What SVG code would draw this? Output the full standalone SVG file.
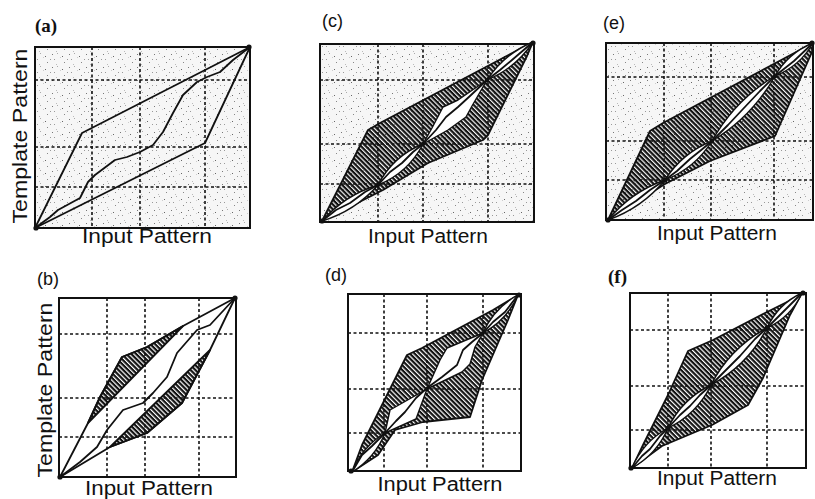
<svg xmlns="http://www.w3.org/2000/svg" width="815" height="499" viewBox="0 0 815 499">
<defs>
  <pattern id="hatch" patternUnits="userSpaceOnUse" width="3.4" height="3.4" patternTransform="rotate(45)">
    <rect x="0" y="0" width="3.4" height="2.2" fill="#111"/>
  </pattern>
  <pattern id="speck" patternUnits="userSpaceOnUse" width="17" height="13">
    <rect width="17" height="13" fill="#f6f6f6"/>
    <rect x="1" y="2" width="1" height="1" fill="#777"/>
    <rect x="6" y="1" width="1" height="1" fill="#aaa"/>
    <rect x="11" y="4" width="1" height="1" fill="#666"/>
    <rect x="3" y="7" width="1" height="1" fill="#999"/>
    <rect x="13" y="10" width="1" height="1" fill="#888"/>
    <rect x="9" y="5" width="1" height="1" fill="#ccc"/>
    <rect x="16" y="7" width="1" height="1" fill="#999"/>
    <rect x="5" y="12" width="1" height="1" fill="#bbb"/>
  </pattern>
</defs>
<style>
  .box{fill:none;stroke:#111;stroke-width:2}
  .grid{fill:none;stroke:#111;stroke-width:1.6;stroke-dasharray:3 2.5}
  .ln{fill:none;stroke:#111;stroke-width:1.8;stroke-linejoin:round}
  .hatch{fill:url(#hatch);stroke:#111;stroke-width:1.8;stroke-linejoin:round}
  .lens{fill:#fff;stroke:#111;stroke-width:1.4;stroke-linejoin:round}
  .dot{fill:#111}
  .ax{font-family:"Liberation Sans",Arial,sans-serif;font-size:19.5px;fill:#111}
  .tag{font-family:"Liberation Sans",Arial,sans-serif;font-size:18px;fill:#111}
  .tags{font-family:"Liberation Serif","Times New Roman",serif;font-size:19px;font-weight:bold;fill:#111}
</style>
<rect width="815" height="499" fill="#fff"/>

<!-- Panel (a) -->
<g id="panel-a">
  <text class="tags" x="35" y="32">(a)</text>
  <rect x="35" y="47" width="215" height="181" fill="url(#speck)"/>
  <path class="grid" d="M92,47V228M140,47V228M205,47V228M35,80H250M35,147H250M35,187H250"/>
  <rect class="box" x="35" y="47" width="215" height="181"/>
  <polyline class="ln" points="35,228 82,133 250,47"/>
  <polyline class="ln" points="35,228 205,143 250,47"/>
  <polyline class="ln" points="35,228 50,217 58,210 80,198 88,182 95,175 115,160 127,157 140,152 153,145 163,132 173,113 183,95 197,82 207,77 220,72 233,60 250,47"/>
  <circle class="dot" cx="36" cy="228" r="2.6"/>
  <circle class="dot" cx="249" cy="47" r="2.6"/>
  <text class="ax" x="147" y="243" text-anchor="middle" textLength="130" lengthAdjust="spacingAndGlyphs">Input Pattern</text>
  <text class="ax" transform="translate(27,136) rotate(-90)" text-anchor="middle" textLength="175" lengthAdjust="spacingAndGlyphs">Template Pattern</text>
</g>

<!-- Panel (b) -->
<g id="panel-b">
  <text class="tag" x="37" y="285">(b)</text>
  <path class="grid" d="M107,298V477M145,298V477M199,298V477M59,334H236M59,398H236M59,437H236"/>
  <rect class="box" x="59" y="298" width="177" height="179"/>
  <polygon class="hatch" points="88,423 100,397 122,357 147,347 183,326"/>
  <polygon class="hatch" points="110,447 147,433 182,403 210,350"/>
  <polyline class="ln" points="60,477 88,423 100,397 122,357 147,347 183,326 235,298"/>
  <polyline class="ln" points="60,477 110,447 147,433 182,403 210,350 235,298"/>
  <polyline class="ln" points="60,477 80,462 97,447 107,430 123,410 143,403 153,393 167,377 177,353 197,330 210,325 235,298"/>
  <circle class="dot" cx="60" cy="477" r="2.6"/>
  <circle class="dot" cx="235" cy="298" r="2.6"/>
  <text class="ax" x="149" y="495" text-anchor="middle" textLength="128" lengthAdjust="spacingAndGlyphs">Input Pattern</text>
  <text class="ax" transform="translate(52,390) rotate(-90)" text-anchor="middle" textLength="175" lengthAdjust="spacingAndGlyphs">Template Pattern</text>
</g>

<!-- Panel (c) -->
<g id="panel-c">
  <text class="tag" x="322" y="27">(c)</text>
  <rect x="320" y="44" width="214" height="178" fill="url(#speck)"/>
  <path class="grid" d="M378,44V222M423,44V222M488,44V222M320,80H534M320,144H534M320,184H534"/>
  <rect class="box" x="320" y="44" width="214" height="178"/>
  <polygon class="hatch" points="322,221 368,130 380,123 533,42 527,56 488,135 483,140 428,163 383,190"/>
  <path class="lens" d="M322,221 Q355,211 378,185 Q345,195 322,221 Z"/>
  <path class="lens" d="M378,185 Q408,173 423,144 Q393,156 378,185 Z"/>
  <polygon class="lens" points="423,144 432,128 443,107 458,100 487,80 472,106 466,117 448,130"/>
  <path class="lens" d="M487,80 Q516,68 533,42 Q504,54 487,80 Z"/>
  <polyline class="ln" points="322,221 336,210 350,203 365,192 378,185 390,172 402,163 413,152 423,144 436,130 446,117 458,107 470,96 487,80 500,70 512,60 533,42"/>
  <circle class="dot" cx="378" cy="185" r="2.2"/>
  <circle class="dot" cx="423" cy="144" r="2.2"/>
  <circle class="dot" cx="487" cy="80" r="2.2"/>
  <circle class="dot" cx="322" cy="221" r="2.6"/>
  <circle class="dot" cx="533" cy="43" r="2.6"/>
  <text class="ax" x="428" y="243" text-anchor="middle" textLength="120" lengthAdjust="spacingAndGlyphs">Input Pattern</text>
</g>

<!-- Panel (d) -->
<g id="panel-d">
  <text class="tag" x="325" y="281">(d)</text>
  <path class="grid" d="M384,294V471M427,294V471M483,294V471M348,333H521M348,389H521M348,433H521"/>
  <rect class="box" x="348" y="294" width="173" height="177"/>
  <polygon class="hatch" points="352,472 362,445 407,355 422,348 493,310 518,295 508,320 482,380 470,417 423,422 395,430 378,455"/>
  <path class="lens" d="M352,472 Q375,458 385,433 Q362,447 352,472 Z"/>
  <polygon class="lens" points="385,433 390,410 427,389 416,419"/>
  <polygon class="lens" points="427,389 440,360 447,348 483,333 475,347 470,364 462,372"/>
  <path class="lens" d="M483,333 Q507,320 518,295 Q494,308 483,333 Z"/>
  <polyline class="ln" points="352,472 362,455 372,446 385,433 396,421 405,412 416,398 427,388 442,377 457,365 463,350 472,342 483,333 493,322 505,312 518,295"/>
  <circle class="dot" cx="385" cy="433" r="2"/>
  <circle class="dot" cx="427" cy="389" r="2"/>
  <circle class="dot" cx="483" cy="333" r="2"/>
  <circle class="dot" cx="351" cy="471" r="2.6"/>
  <circle class="dot" cx="519" cy="295" r="2.6"/>
  <text class="ax" x="440" y="491" text-anchor="middle" textLength="125" lengthAdjust="spacingAndGlyphs">Input Pattern</text>
</g>

<!-- Panel (e) -->
<g id="panel-e">
  <text class="tag" x="603" y="29">(e)</text>
  <rect x="606" y="43" width="207" height="177" fill="url(#speck)"/>
  <path class="grid" d="M664,43V220M711,43V220M774,43V220M606,77H813M606,141H813M606,180H813"/>
  <rect class="box" x="606" y="43" width="207" height="177"/>
  <polygon class="hatch" points="608,220 650,131 663,123 770,66 813,43 812,52 775,136 710,161 665,184"/>
  <path class="lens" d="M608,220 Q642,208 665,180 Q631,192 608,220 Z"/>
  <path class="lens" d="M665,180 Q695,168 712,141 Q682,153 665,180 Z"/>
  <path class="lens" d="M712,141 Q752,117 775,76 Q735,100 712,141 Z"/>
  <path class="lens" d="M775,76 Q800,66 813,43 Q788,53 775,76 Z"/>
  <polyline class="ln" points="608,220 622,210 636,201 650,190 665,180 677,171 690,159 700,151 712,141 728,125 743,109 760,91 775,76 794,61 813,43"/>
  <circle class="dot" cx="665" cy="180" r="2.2"/>
  <circle class="dot" cx="712" cy="141" r="2.2"/>
  <circle class="dot" cx="775" cy="76" r="2.2"/>
  <circle class="dot" cx="608" cy="220" r="2.6"/>
  <circle class="dot" cx="812" cy="43" r="2.6"/>
  <text class="ax" x="717" y="240" text-anchor="middle" textLength="120" lengthAdjust="spacingAndGlyphs">Input Pattern</text>
</g>

<!-- Panel (f) -->
<g id="panel-f">
  <text class="tags" x="608" y="283">(f)</text>
  <path class="grid" d="M668,293V468M711,293V468M767,293V468M630,330H806M630,386H806M630,430H806"/>
  <rect class="box" x="630" y="293" width="176" height="175"/>
  <polygon class="hatch" points="632,468 643,445 668,395 688,351 713,340 765,313 795,298 802,293 790,315 763,378 748,405 712,425 662,446"/>
  <path class="lens" d="M632,468 Q657,454 668,428 Q643,442 632,468 Z"/>
  <path class="lens" d="M668,428 Q697,414 711,385 Q682,399 668,428 Z"/>
  <path class="lens" d="M711,385 Q748,365 767,328 Q730,348 711,385 Z"/>
  <path class="lens" d="M767,328 Q791,317 802,293 Q778,304 767,328 Z"/>
  <polyline class="ln" points="632,468 642,456 650,449 660,436 668,428 680,415 690,406 700,395 711,385 725,371 740,356 755,339 767,328 785,310 802,293"/>
  <circle class="dot" cx="668" cy="428" r="2.6"/>
  <circle class="dot" cx="711" cy="385" r="2.6"/>
  <circle class="dot" cx="767" cy="328" r="2.6"/>
  <circle class="dot" cx="631" cy="468" r="2.6"/>
  <circle class="dot" cx="803" cy="293" r="2.6"/>
  <text class="ax" x="717" y="485" text-anchor="middle" textLength="120" lengthAdjust="spacingAndGlyphs">Input Pattern</text>
</g>
</svg>
